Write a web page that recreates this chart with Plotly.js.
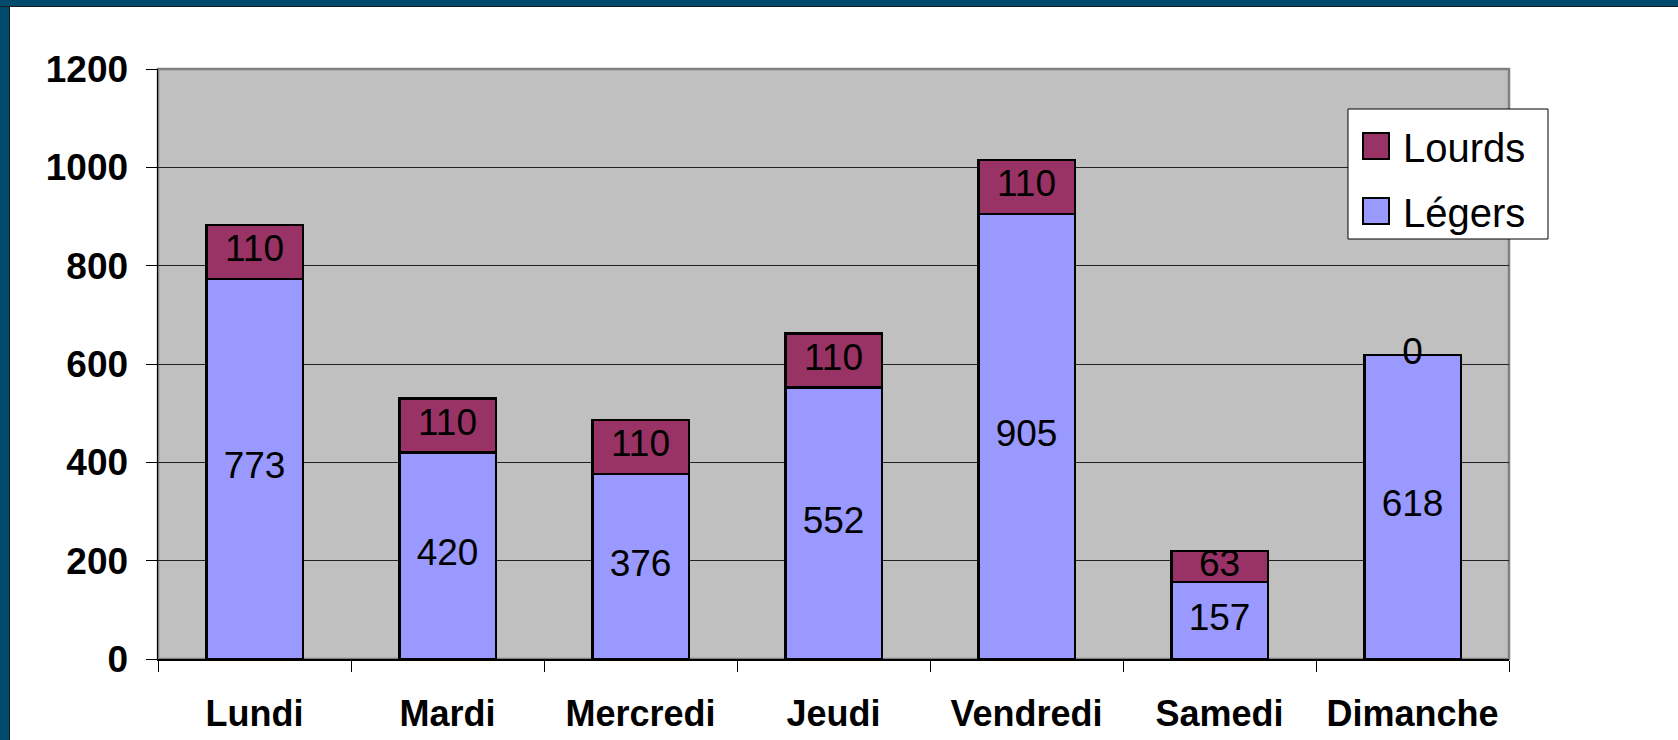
<!DOCTYPE html>
<html>
<head>
<meta charset="utf-8">
<script src="https://cdn.plot.ly/plotly-3.0.1.min.js"></script>
<style>
  html, body { margin: 0; padding: 0; background: #ffffff; }
  #wrap { position: relative; width: 1678px; height: 740px; overflow: hidden; }
  #chart { position: absolute; left: 0; top: 0; width: 1678px; height: 740px; }
  .bl { position: absolute; left: 0; top: 0; width: 9px; height: 740px; background: rgb(0,74,110); border-right: 1px solid #1a1a1a; }
  .bt { position: absolute; left: 0; top: 0; width: 1678px; height: 6px; background: rgb(0,74,110); border-bottom: 1px solid #1a1a1a; }
</style>
</head>
<body>
<div id="wrap">
  <div id="chart"></div>
  <div class="bl"></div>
  <div class="bt"></div>
</div>
<script>
// ---- data ----
const days = ["Lundi", "Mardi", "Mercredi", "Jeudi", "Vendredi", "Samedi", "Dimanche"];
const legers = [773, 420, 376, 552, 905, 157, 618];
const lourds = [110, 110, 110, 110, 110, 63, 0];
const seriesNames = ["Lourds", "Légers"];
const yTickVals = [0, 200, 400, 600, 800, 1000, 1200];

// ---- styling ----
const W = 1678, H = 740;
const M = { l: 158, r: 169, t: 69, b: 81 };
const pw = W - M.l - M.r, ph = H - M.t - M.b;
const px2x = px => (px - M.l) / pw;
const px2y = py => (H - M.b - py) / ph;
const colLegers = "#9999FF";
const colLourds = "#993366";
const fam = "Arial, 'Liberation Sans', sans-serif";

const barLine = { color: "#000000", width: 2.5 };

const traces = [
  {
    type: "bar", name: seriesNames[1], x: days, y: legers,
    marker: { color: colLegers, line: barLine },
    hoverinfo: "x+y+name", showlegend: false
  },
  {
    type: "bar", name: seriesNames[0], x: days, y: lourds,
    marker: { color: colLourds, line: barLine },
    hoverinfo: "x+y+name", showlegend: false
  },
  {
    type: "scatter", mode: "text", x: days,
    y: legers.map(v => v / 2),
    text: legers.map(String),
    textposition: "middle center",
    textfont: { family: fam, size: 37, color: "#000000" },
    cliponaxis: false, hoverinfo: "skip", showlegend: false
  },
  {
    type: "scatter", mode: "text", x: days,
    y: legers.map((v, i) => v + lourds[i] / 2),
    text: lourds.map(String),
    textposition: "middle center",
    textfont: { family: fam, size: 37, color: "#000000" },
    cliponaxis: false, hoverinfo: "skip", showlegend: false
  }
];

// manual legend (Excel-style large swatches)
const legBox = { x0: 1348, x1: 1548, y0: 109, y1: 239 };
const legItems = [
  { name: seriesNames[0], color: colLourds, cy: 146 },
  { name: seriesNames[1], color: colLegers, cy: 211 }
];
const shapes = [
  {
    type: "rect", xref: "paper", yref: "paper", layer: "below",
    x0: 0, x1: 1, y0: 0, y1: 1,
    line: { color: "#808080", width: 2.5 }, fillcolor: "rgba(0,0,0,0)"
  },
  {
    type: "rect", xref: "paper", yref: "paper", layer: "above",
    x0: px2x(legBox.x0), x1: px2x(legBox.x1), y0: px2y(legBox.y1), y1: px2y(legBox.y0),
    line: { color: "#000000", width: 1 }, fillcolor: "#ffffff"
  }
];
const annotations = [];
legItems.forEach(it => {
  shapes.push({
    type: "rect", xref: "paper", yref: "paper", layer: "above",
    x0: px2x(1363), x1: px2x(1389), y0: px2y(it.cy + 13), y1: px2y(it.cy - 13),
    line: { color: "#000000", width: 2 }, fillcolor: it.color
  });
  annotations.push({
    xref: "paper", yref: "paper", x: px2x(1401), y: px2y(it.cy + 2),
    xanchor: "left", yanchor: "middle", showarrow: false,
    text: it.name, font: { family: fam, size: 40, color: "#000000" }
  });
});

const layout = {
  width: W, height: H,
  margin: M,
  paper_bgcolor: "#ffffff",
  plot_bgcolor: "#C0C0C0",
  barmode: "stack",
  bargap: 0.5,
  showlegend: false,
  font: { family: fam, color: "#000000" },
  xaxis: {
    type: "category",
    showgrid: false,
    showline: true, linecolor: "#000000", linewidth: 1.5,
    ticks: "outside", tickson: "boundaries", ticklen: 11, tickcolor: "#000000", tickwidth: 1,
    tickfont: { family: fam, size: 36, color: "#000000", weight: "bold" },
    ticklabelstandoff: 22,
    fixedrange: true
  },
  yaxis: {
    range: [0, 1200],
    tickmode: "array", tickvals: yTickVals, ticktext: yTickVals.map(String),
    showgrid: true, gridcolor: "#222222", gridwidth: 1,
    zeroline: false,
    showline: true, linecolor: "#000000", linewidth: 1.5,
    ticks: "outside", ticklen: 11, tickcolor: "#000000", tickwidth: 1,
    tickfont: { family: fam, size: 37, color: "#000000", weight: "bold" },
    ticklabelstandoff: 10,
    fixedrange: true
  },
  shapes: shapes,
  annotations: annotations
};

Plotly.newPlot("chart", traces, layout, { displayModeBar: false, staticPlot: true });
</script>
</body>
</html>
